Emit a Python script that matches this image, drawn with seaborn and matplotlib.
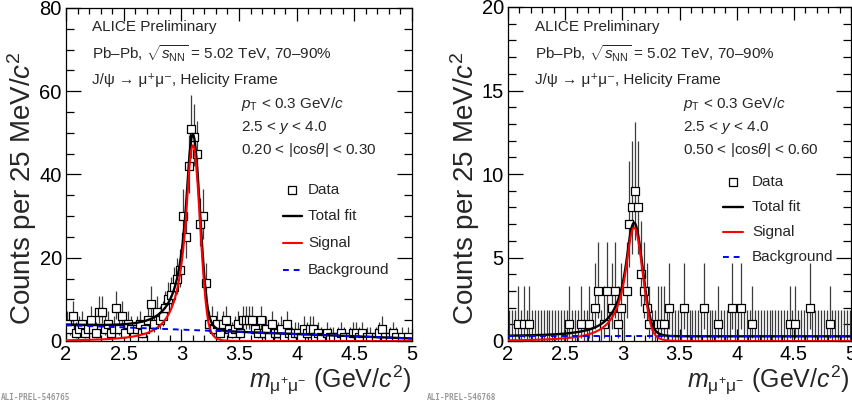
import numpy as np
import pandas as pd
import matplotlib
matplotlib.use("Agg")
import matplotlib.pyplot as plt
import seaborn as sns
from matplotlib.ticker import MultipleLocator, FormatStrFormatter

# ---------------- data ----------------
bin_lo, bin_width, n_bins = 2.0, 0.025, 120

counts_left = [
    4, 3, 6, 2, 3, 4, 2, 3, 5, 3,
    2, 7, 7, 3, 4, 2, 3, 8, 3, 6,
    2, 4, 3, 1, 3, 4, 2, 3, 5, 9,
    4, 7, 5, 6, 8, 10, 11, 13, 15, 17,
    30, 25, 42, 51, 49, 45, 28, 30, 14, 4,
    5, 3, 4, 2, 4, 5, 3, 2, 3, 4,
    2, 5, 5, 5, 5, 3, 2, 5, 2, 3,
    1, 4, 2, 2, 3, 1, 4, 2, 1, 2,
    2, 1, 3, 2, 3, 3, 1, 2, 1, 0,
    2, 1, 1, 0, 1, 2, 1, 0, 1, 2,
    2, 1, 2, 0, 1, 1, 0, 1, 2, 3,
    1, 0, 1, 2, 1, 0, 1, 0, 1, 0,
]

counts_right = [
    0, 0, 0, 1, 0, 1, 0, 1, 0, 0,
    0, 0, 0, 0, 0, 0, 0, 0, 0, 0,
    0, 1, 0, 0, 0, 1, 0, 0, 1, 0,
    2, 3, 0, 1, 3, 0, 2, 3, 1, 2,
    0, 3, 7, 8, 9, 8, 4, 3, 2, 1,
    0, 0, 1, 1, 1, 0, 2, 0, 0, 0,
    0, 2, 0, 0, 0, 0, 0, 0, 2, 0,
    0, 0, 0, 1, 0, 0, 0, 0, 2, 0,
    0, 2, 0, 0, 0, 1, 0, 0, 0, 0,
    0, 0, 0, 0, 0, 0, 0, 0, 1, 0,
    1, 0, 0, 0, 0, 2, 0, 0, 0, 0,
    0, 0, 1, 0, 0, 0, 0, 0, 0, 0,
]

# fit parameters
fit_left = dict(amp=47.0, mu=3.100, sigma=0.062, a1=0.85, n1=3.0, a2=2.0, n2=10.0)
bkg_left = (3.8, 0.6)          # background level at 2 and at 5 GeV/c^2
fit_right = dict(amp=6.8, mu=3.103, sigma=0.074, a1=0.85, n1=3.0, a2=2.0, n2=10.0)
bkg_right = (0.28, 0.28)

cos_left = "0.20 < |cos$\\theta$| < 0.30"
cos_right = "0.50 < |cos$\\theta$| < 0.60"
y_max_left, y_max_right = 80, 20
legend_labels = ["Data", "Total fit", "Signal", "Background"]

# ---------------- style ----------------
sns.set_theme(style="ticks")
plt.rcParams["font.family"] = ["Liberation Sans", "DejaVu Sans"]
plt.rcParams["mathtext.fontset"] = "custom"
plt.rcParams["mathtext.rm"] = "Liberation Sans"
plt.rcParams["mathtext.it"] = "Liberation Sans:italic"
plt.rcParams["mathtext.bf"] = "Liberation Sans:bold"
plt.rcParams["axes.linewidth"] = 0.9

W, H = 853, 409
fig = plt.figure(figsize=(W / 100, H / 100), dpi=100)


def fx(px):
    return px / W


def fy(py):
    return 1 - py / H


def dscb(x, amp, mu, sigma, a1, n1, a2, n2):
    t = (x - mu) / sigma
    out = np.exp(-0.5 * t ** 2)
    A1 = (n1 / a1) ** n1 * np.exp(-0.5 * a1 ** 2)
    B1 = n1 / a1 - a1
    A2 = (n2 / a2) ** n2 * np.exp(-0.5 * a2 ** 2)
    B2 = n2 / a2 - a2
    left = t < -a1
    right = t > a2
    out[left] = A1 * (B1 - t[left]) ** (-n1)
    out[right] = A2 * (B2 + t[right]) ** (-n2)
    return amp * out


def poisson_errors(n):
    n = np.asarray(n, dtype=float)
    up = np.sqrt(n + 0.75) + 1.0
    lo = np.zeros_like(n)
    pos = n > 0
    lo[pos] = n[pos] - n[pos] * (1 - 1 / (9 * n[pos]) - 1 / (3 * np.sqrt(n[pos]))) ** 3
    return lo, up


centers = bin_lo + bin_width * (np.arange(n_bins) + 0.5)
xs = np.linspace(2.0, 5.0, 800)


def draw_panel(rect, counts, fit, bkg, ymax, ymajor, yminor, cos_text, tx, ty_kin_x, leg):
    ax = fig.add_axes(rect)
    df = pd.DataFrame({"m": centers, "n": counts})
    lo, up = poisson_errors(df["n"])
    ax.vlines(df["m"], df["n"] - lo, df["n"] + up, color="#3c3c3c", lw=0.9, zorder=2)
    nz = df[df["n"] > 0]
    sns.scatterplot(data=nz, x="m", y="n", marker="s", s=34, color="white",
                    edgecolor="black", linewidth=0.9, zorder=3, ax=ax, legend=False)
    sig = dscb(xs, **fit)
    b = bkg[0] + (bkg[1] - bkg[0]) * (xs - 2.0) / 3.0
    curves = pd.DataFrame({"x": xs, "total": sig + b, "signal": sig, "bkg": b})
    sns.lineplot(data=curves, x="x", y="total", color="black", lw=1.7, ax=ax, zorder=4)
    sns.lineplot(data=curves, x="x", y="signal", color="#ff0000", lw=1.5, ax=ax, zorder=5)
    ax.plot(curves["x"], curves["bkg"], color="#0000ff", lw=1.4, ls=(0, (3, 2.5)), zorder=6)

    ax.set_xlim(2, 5)
    ax.set_ylim(0, ymax)
    ax.set_xlabel("")
    ax.set_ylabel("")
    ax.xaxis.set_major_locator(MultipleLocator(0.5))
    ax.xaxis.set_minor_locator(MultipleLocator(0.1))
    ax.yaxis.set_major_locator(MultipleLocator(ymajor))
    ax.yaxis.set_minor_locator(MultipleLocator(yminor))
    ax.xaxis.set_major_formatter(FormatStrFormatter("%g"))
    ax.tick_params(which="both", direction="in", top=True, right=True,
                   labelsize=14.5, width=0.9, colors="black")
    ax.tick_params(axis="x", which="major", length=9, pad=3)
    ax.tick_params(axis="x", which="minor", length=4.5)
    ax.tick_params(axis="y", which="major", length=11, pad=3)
    ax.tick_params(axis="y", which="minor", length=5.5)
    for s in ax.spines.values():
        s.set_visible(True)
        s.set_color("black")

    fs = 11
    fam = ["Liberation Sans", "DejaVu Sans"]
    fig.text(fx(tx), fy(27), "ALICE Preliminary", fontsize=fs, va="center", family=fam)
    fig.text(fx(tx), fy(54), "Pb\u2013Pb, $\\sqrt{s_{\\mathrm{NN}}}$ = 5.02 TeV, 70\u201390%",
             fontsize=fs, va="center", family=fam)
    fig.text(fx(tx), fy(80), "J/\u03c8 \u2192 \u03bc\u207a\u03bc\u207b, Helicity Frame",
             fontsize=fs, va="center", family=fam)
    fig.text(fx(ty_kin_x), fy(104), "$p_{\\mathrm{T}}$ < 0.3 GeV/$c$", fontsize=fs, va="center", family=fam)
    fig.text(fx(ty_kin_x), fy(127), "2.5 < $y$ < 4.0", fontsize=fs, va="center", family=fam)
    fig.text(fx(ty_kin_x), fy(150), cos_text, fontsize=fs, va="center", family=fam)

    # legend
    lx0, lx1, ltx, ly = leg
    fig.lines.append(plt.Line2D([fx((lx0 + lx1) / 2)], [fy(ly[0])], marker="s", ms=6.2,
                                mfc="white", mec="black", mew=0.9, ls="none",
                                transform=fig.transFigure))
    styles = [dict(color="black", lw=1.7, ls="-"), dict(color="#ff0000", lw=1.5, ls="-"),
              dict(color="#0000ff", lw=1.4, ls=(0, (3, 2.5)))]
    for st, yy in zip(styles, ly[1:]):
        fig.lines.append(plt.Line2D([fx(lx0), fx(lx1)], [fy(yy), fy(yy)],
                                    transform=fig.transFigure, **st))
    for lab, yy in zip(legend_labels, ly):
        fig.text(fx(ltx), fy(yy), lab, fontsize=fs, va="center", family=fam)
    return ax


axL = draw_panel([fx(66), fy(341), fx(412) - fx(66), fy(8) - fy(341)],
                 counts_left, fit_left, bkg_left, y_max_left, 20, 5, cos_left,
                 92, 241, (283, 302, 308, [190, 216, 243, 270]))
axR = draw_panel([fx(508), fy(341), fx(851) - fx(508), fy(7) - fy(341)],
                 counts_right, fit_right, bkg_right, y_max_right, 5, 1, cos_right,
                 535, 683, (723, 743, 752, [182, 207, 232, 257]))

ylab = "Counts per 25 MeV/$c^{2}$"
xlab = "$m_{\\mathrm{\\mu^{+}\\mu^{-}}}$ (GeV/$c^{2}$)"
for xc in (22, 465):
    fig.text(fx(xc), fy(188), ylab, rotation=90, ha="center", va="center", fontsize=20)
fig.text(fx(412), fy(380), xlab, ha="right", va="center", fontsize=18)
fig.text(fx(850), fy(380), xlab, ha="right", va="center", fontsize=18)

fig.text(fx(1), fy(398), "ALI-PREL-546765", fontsize=5.5, color="#9a9a9a",
         family="DejaVu Sans Mono", weight="bold", va="center")
fig.text(fx(427), fy(398), "ALI-PREL-546768", fontsize=5.5, color="#9a9a9a",
         family="DejaVu Sans Mono", weight="bold", va="center")

fig.savefig("out.png", dpi=100)
